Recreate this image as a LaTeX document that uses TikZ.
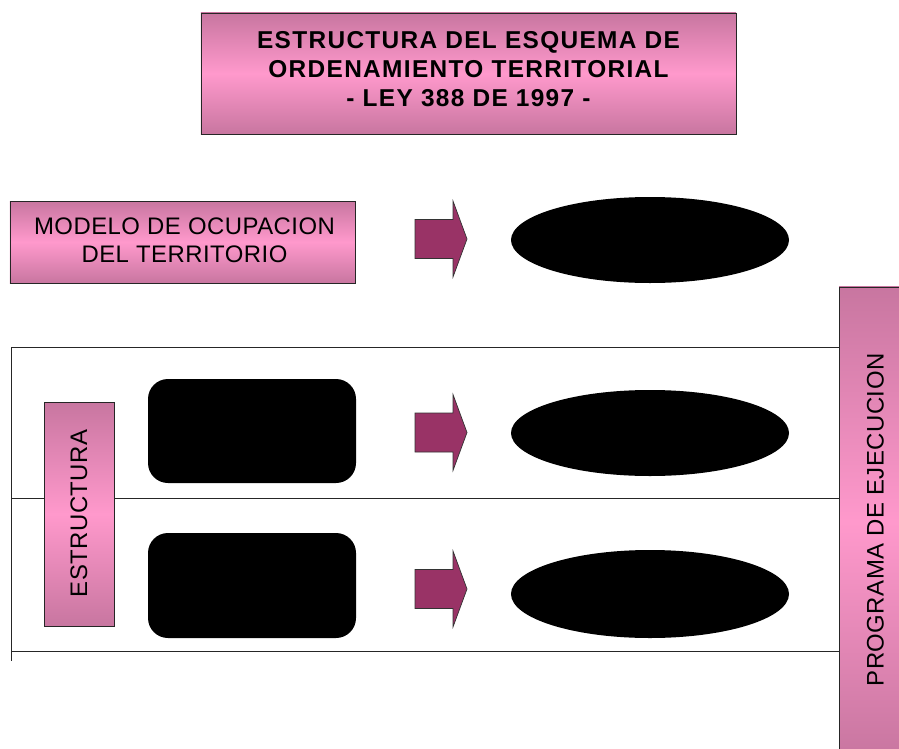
\documentclass[tikz,border=0pt]{standalone}
\usepackage{fontspec}
\setmainfont{Liberation Sans}
\newfontfamily\titlefont[LetterSpace=5.5]{Liberation Sans}
\newfontfamily\boxfont[LetterSpace=2]{Liberation Sans}
\usetikzlibrary{shapes.geometric}
\definecolor{pdark}{RGB}{200,118,160}
\definecolor{plight}{RGB}{255,153,204}
\definecolor{arrowfill}{RGB}{153,51,102}
\begin{document}
\begin{tikzpicture}[x=1bp,y=-1bp,
  pinkbox/.style={draw=black!85, line width=0.8bp, top color=pdark, bottom color=pdark, middle color=plight, inner sep=0pt},
  blackbox/.style={fill=black, rounded corners=20bp, minimum width=208bp, minimum height=104bp, inner sep=0pt},
  blackoval/.style={ellipse, fill=black, minimum width=278bp, minimum height=86bp, inner sep=0pt},
  sepline/.style={draw=black!85, line width=0.9bp},
  txt/.style={font=\boxfont\fontsize{24}{28}\selectfont, align=center, inner sep=0pt},
  blockarrow/.pic={\draw[fill=arrowfill, draw=black!80, line width=0.7bp]
     (-26,-19.5) -- (12,-19.5) -- (12,-38) -- (26,0) -- (12,38) -- (12,19.5) -- (-26,19.5) -- cycle;}
]
\useasboundingbox (0,0) rectangle (899,749);
% separator lines
\coordinate (l1a) at (11,347); \coordinate (l1b) at (839,347);
\coordinate (l2a) at (11,498.5); \coordinate (l2b) at (839,498.5);
\coordinate (l3a) at (11,651); \coordinate (l3b) at (839,651);
\coordinate (vend) at (11,661);
\draw[sepline] (l1b) -- (l1a) -- (vend);
\draw[sepline] (l2a) -- (l2b);
\draw[sepline] (l3a) -- (l3b);
% title
\node[pinkbox, minimum width=535bp, minimum height=121bp] (title) at (468.5,73.5) {};
\node[txt, font=\titlefont\bfseries\fontsize{24.5}{29}\selectfont] (titletext) at (468.5,69) {ESTRUCTURA DEL ESQUEMA DE\\ORDENAMIENTO TERRITORIAL\\- LEY 388 DE 1997 -};
% modelo row
\node[pinkbox, minimum width=345bp, minimum height=82bp] (modelo) at (182.5,242) {};
\node[txt] (modelotext) at (184.5,240) {MODELO DE OCUPACION\\DEL TERRITORIO};
\pic (arr1) at (441,239) {blockarrow};
\node[blackoval] (oval1) at (650,240) {};
% estructura
\node[pinkbox, minimum width=70bp, minimum height=224bp] (estructura) at (79,514) {};
\node[txt, rotate=90] (estructuratext) at (79,513.5) {ESTRUCTURA};
\node[blackbox] (box1) at (252,431) {};
\node[blackbox, minimum height=105bp] (box2) at (252,585.5) {};
\pic (arr2) at (441,432.5) {blockarrow};
\pic (arr3) at (441,589) {blockarrow};
\node[blackoval] (oval2) at (650,433) {};
\node[blackoval, minimum height=88bp] (oval3) at (650,594) {};
% programa
\node[pinkbox, minimum width=66bp, minimum height=470bp] (programa) at (872,522) {};
\node[txt, rotate=90] (programatext) at (875.5,520) {PROGRAMA DE EJECUCION};
\end{tikzpicture}
\end{document}
